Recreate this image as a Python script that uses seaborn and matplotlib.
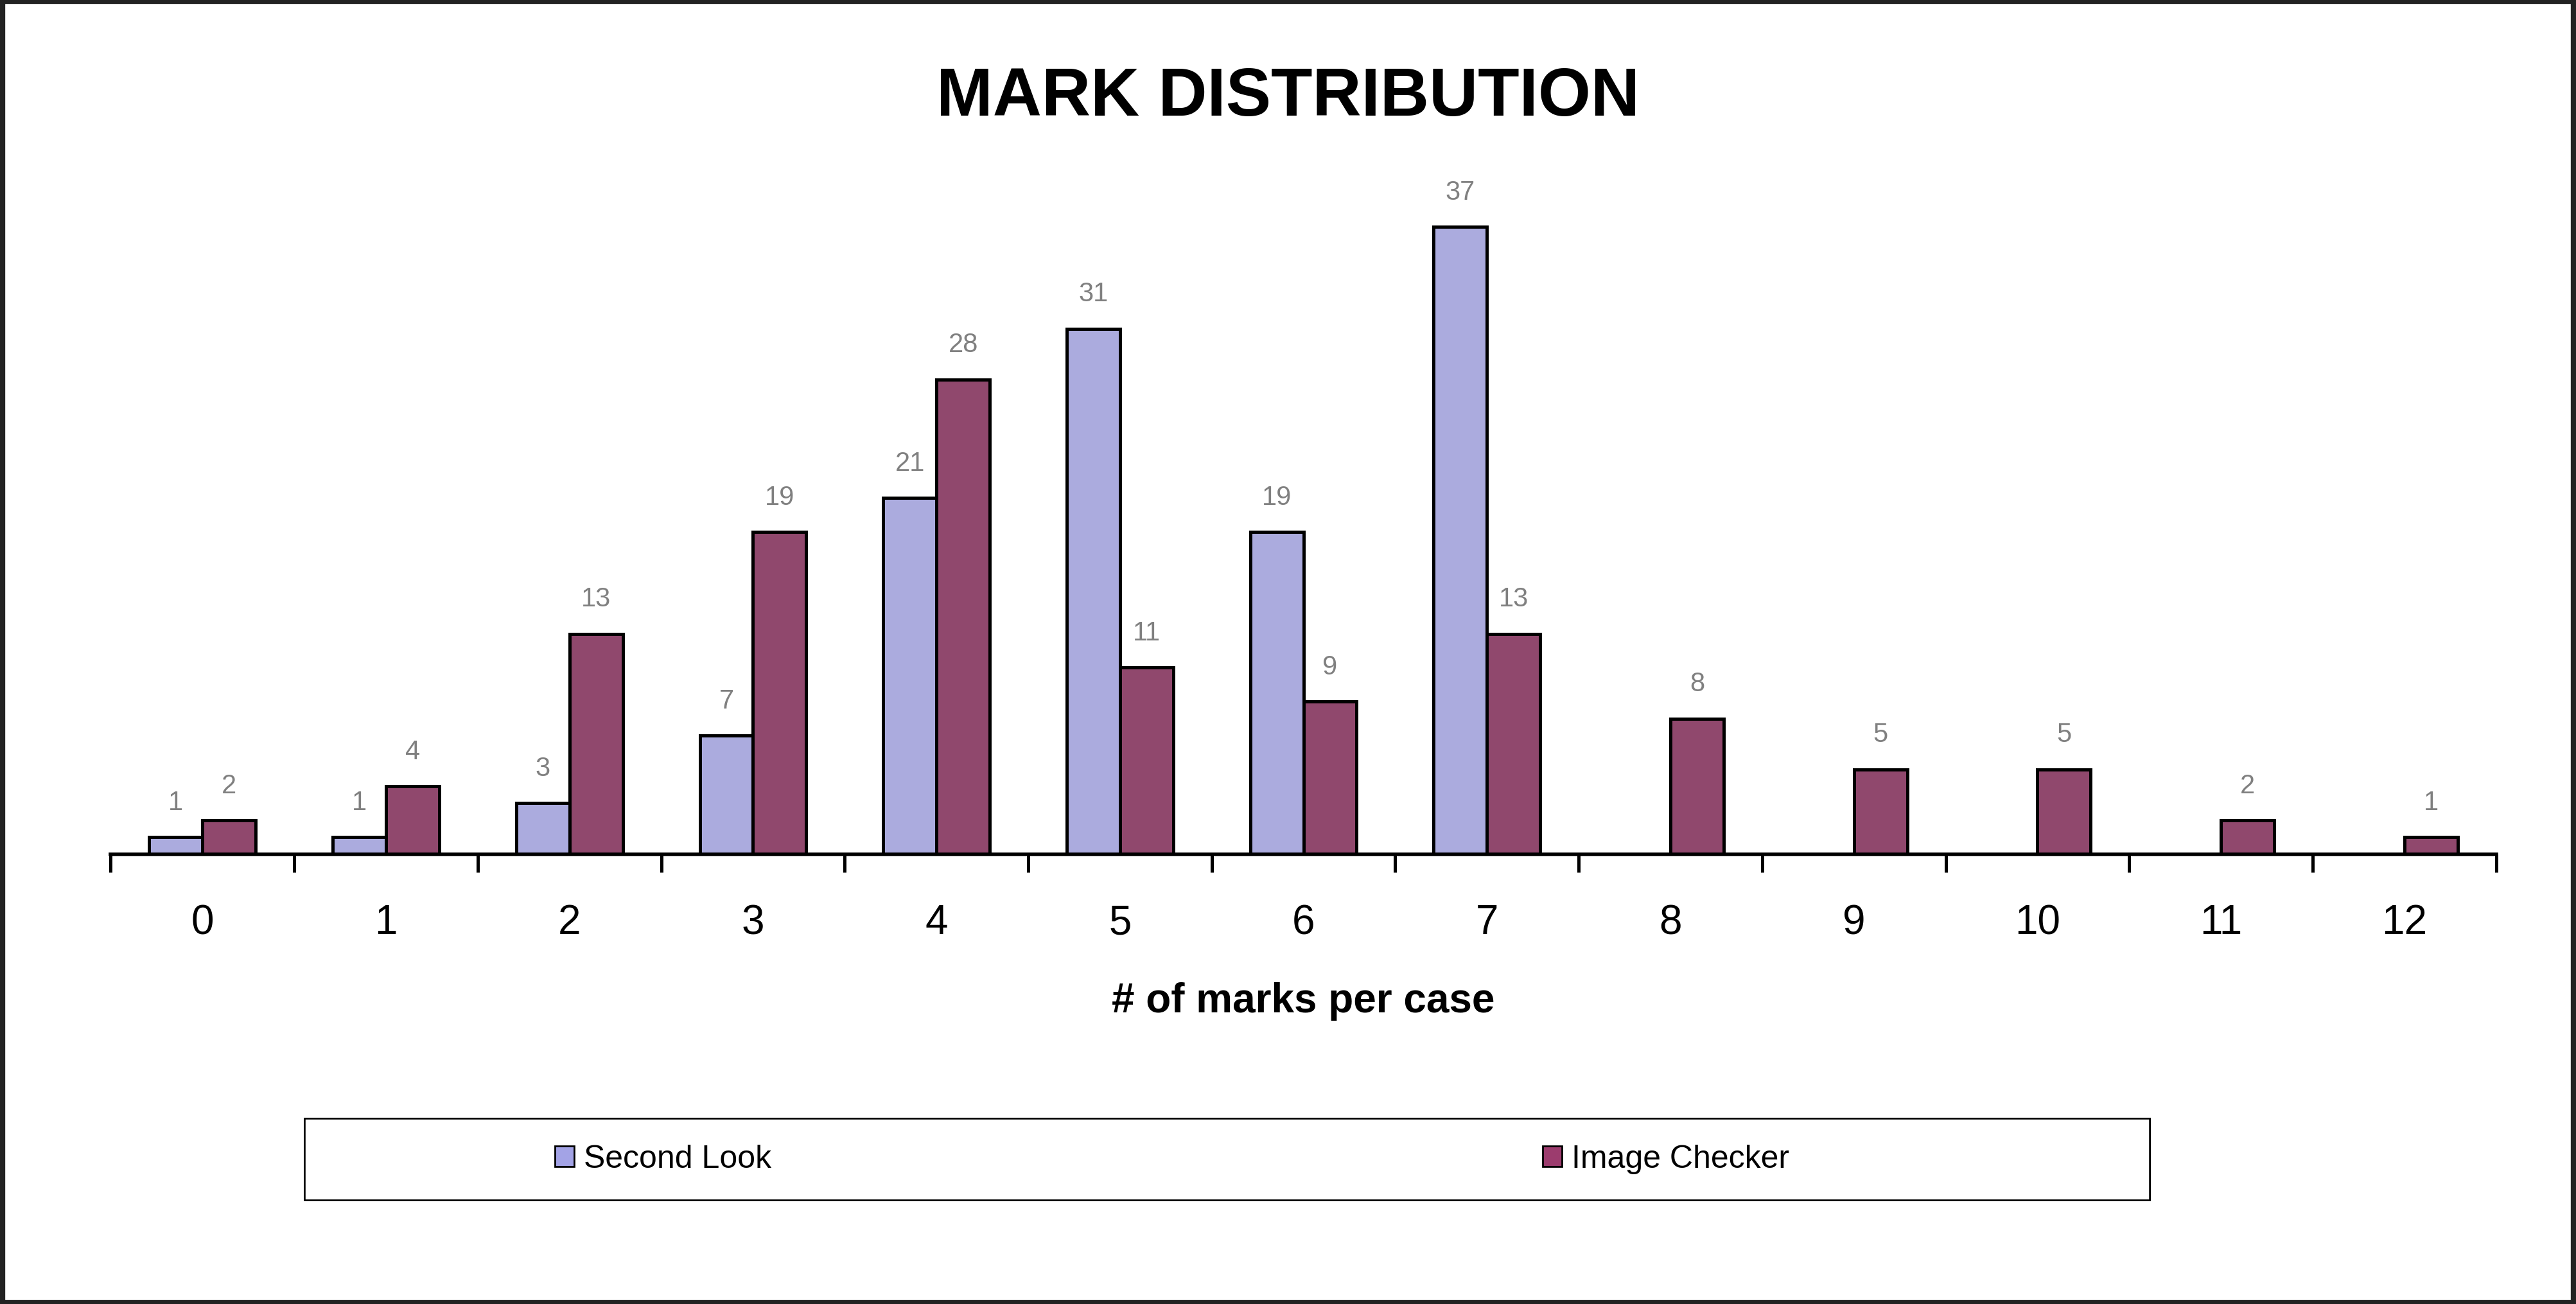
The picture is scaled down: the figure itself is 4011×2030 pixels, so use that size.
import numpy as np
import pandas as pd
import matplotlib
matplotlib.use("Agg")
import matplotlib.pyplot as plt
import seaborn as sns

categories = [str(i) for i in range(13)]
second_look = [1, 1, 3, 7, 21, 31, 19, 37, np.nan, np.nan, np.nan, np.nan, np.nan]
image_checker = [2, 4, 13, 19, 28, 11, 9, 13, 8, 5, 5, 2, 1]
series = ["Second Look", "Image Checker"]
colors = ["#A3A3E6", "#9C3C6E"]

df = pd.DataFrame({
    "marks": categories * 2,
    "count": second_look + image_checker,
    "series": [series[0]] * 13 + [series[1]] * 13,
})

sns.set_style("white")
plt.rcParams["font.family"] = ["Liberation Sans", "DejaVu Sans"]
plt.rcParams["text.color"] = "black"
plt.rcParams["xtick.color"] = "black"
plt.rcParams["axes.labelcolor"] = "black"

fig = plt.figure(figsize=(20.055, 10.15), dpi=200)
ax = fig.add_axes([0.043, 0.345, 0.926, 0.52])
sns.barplot(data=df, x="marks", y="count", hue="series", order=categories,
            hue_order=series, palette=colors, width=0.58, edgecolor="black",
            linewidth=1.8, ax=ax, legend=False)
ax.set_ylim(0, 40)
ax.set_xlim(-0.5, 12.5)
for c in ax.containers:
    labels = ["" if np.isnan(v) else f"{int(v)}" for v in c.datavalues]
    ax.bar_label(c, labels=labels, padding=12, color="#808080", fontsize=15)

for s in ["top", "right", "left"]:
    ax.spines[s].set_visible(False)
ax.spines["bottom"].set_linewidth(2)
ax.spines["bottom"].set_color("black")
ax.set_yticks([])
ax.set_ylabel("")
ax.set_xticks(range(13))
ax.set_xticklabels(categories, fontsize=23, color="black")
ax.set_xticks(np.arange(-0.5, 13, 1), minor=True)
ax.tick_params(axis="x", which="major", length=0, pad=28, bottom=True)
ax.tick_params(axis="x", which="minor", length=10, width=1.8, direction="out",
               color="black", bottom=True)
ax.set_xlabel("# of marks per case", fontsize=23, fontweight="bold", labelpad=22, color="black")

fig.text(0.5, 0.925, "MARK DISTRIBUTION", ha="center", va="center", fontsize=38,
         fontweight="bold", color="black")

from matplotlib.patches import Patch, Rectangle
handles = [Patch(facecolor=colors[i], edgecolor="black", label=series[i]) for i in range(2)]
lax = fig.add_axes([0.118, 0.079, 0.717, 0.064])
lax.axis("off")
lax.add_patch(Rectangle((0, 0), 1, 1, transform=lax.transAxes, fill=False, edgecolor="black", linewidth=2))
leg = lax.legend(handles=handles, loc="center", ncol=2, frameon=False, fontsize=18,
                 columnspacing=24, handlelength=0.6, handleheight=0.6, handletextpad=0.3,
                 bbox_to_anchor=(0.47, 0.5))
for t in leg.get_texts():
    t.set_color("black")

fig.add_artist(Rectangle((0.001, 0.001), 0.998, 0.998, transform=fig.transFigure, fill=False,
                         edgecolor="#222222", linewidth=3))
fig.savefig("out.png", dpi=200, facecolor="white")
